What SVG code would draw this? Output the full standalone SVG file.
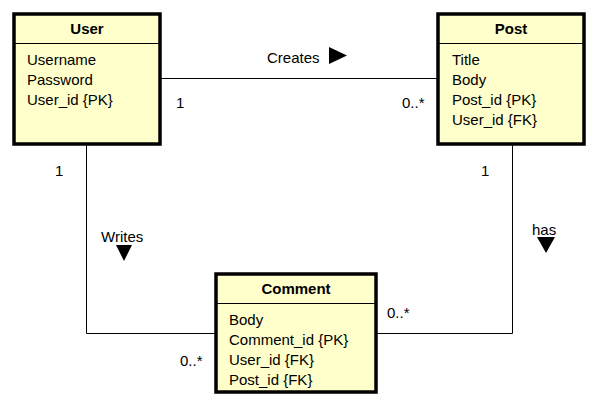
<svg xmlns="http://www.w3.org/2000/svg" width="597" height="408" viewBox="0 0 597 408">
<style>
.box{fill:#FFFFCC;stroke:#000;stroke-width:3.5}
.sep{stroke:#000;stroke-width:1;fill:none}
.t{font-family:"Liberation Sans",Arial,sans-serif;font-size:15px;fill:#000}
.h{font-family:"Liberation Sans",Arial,sans-serif;font-size:15px;font-weight:bold;fill:#000;text-anchor:middle}
.c{stroke:#000;stroke-width:1;fill:none}
.tri{fill:#000}
</style>
<rect width="597" height="408" fill="#fff"/>
<g id="connectors">
<path class="c" d="M161 78.5H438"/>
<path class="c" d="M86.5 145V333.5H216"/>
<path class="c" d="M512.5 145V333.5H376"/>
<text class="t" x="267" y="63">Creates</text>
<polygon class="tri" points="329,47 347,55.5 329,64"/>
<text class="t" x="176" y="108">1</text>
<text class="t" x="402" y="108">0..*</text>
<text class="t" x="55" y="176">1</text>
<text class="t" x="101" y="242">Writes</text>
<polygon class="tri" points="116,245 132,245 124,261"/>
<text class="t" x="180" y="366">0..*</text>
<text class="t" x="481" y="176">1</text>
<text class="t" x="532" y="235">has</text>
<polygon class="tri" points="537,237 555,237 546,253"/>
<text class="t" x="387" y="318">0..*</text>
</g>
<g id="user">
<rect class="box" x="14" y="14" width="146" height="130"/>
<path class="sep" d="M14 43.5H160"/>
<text class="h" x="87" y="34">User</text>
<text class="t" x="27" y="65">Username</text>
<text class="t" x="27" y="85">Password</text>
<text class="t" x="27" y="105">User_id {PK}</text>
</g>
<g id="post">
<rect class="box" x="438" y="14" width="146" height="130"/>
<path class="sep" d="M438 43.5H584"/>
<text class="h" x="511" y="34">Post</text>
<text class="t" x="452" y="65">Title</text>
<text class="t" x="452" y="85">Body</text>
<text class="t" x="452" y="105">Post_id {PK}</text>
<text class="t" x="452" y="125">User_id {FK}</text>
</g>
<g id="comment">
<rect class="box" x="216" y="274" width="160" height="118"/>
<path class="sep" d="M216 303.5H376"/>
<text class="h" x="296" y="294">Comment</text>
<text class="t" x="229" y="325">Body</text>
<text class="t" x="229" y="345">Comment_id {PK}</text>
<text class="t" x="229" y="365">User_id {FK}</text>
<text class="t" x="229" y="385">Post_id {FK}</text>
</g>
</svg>
